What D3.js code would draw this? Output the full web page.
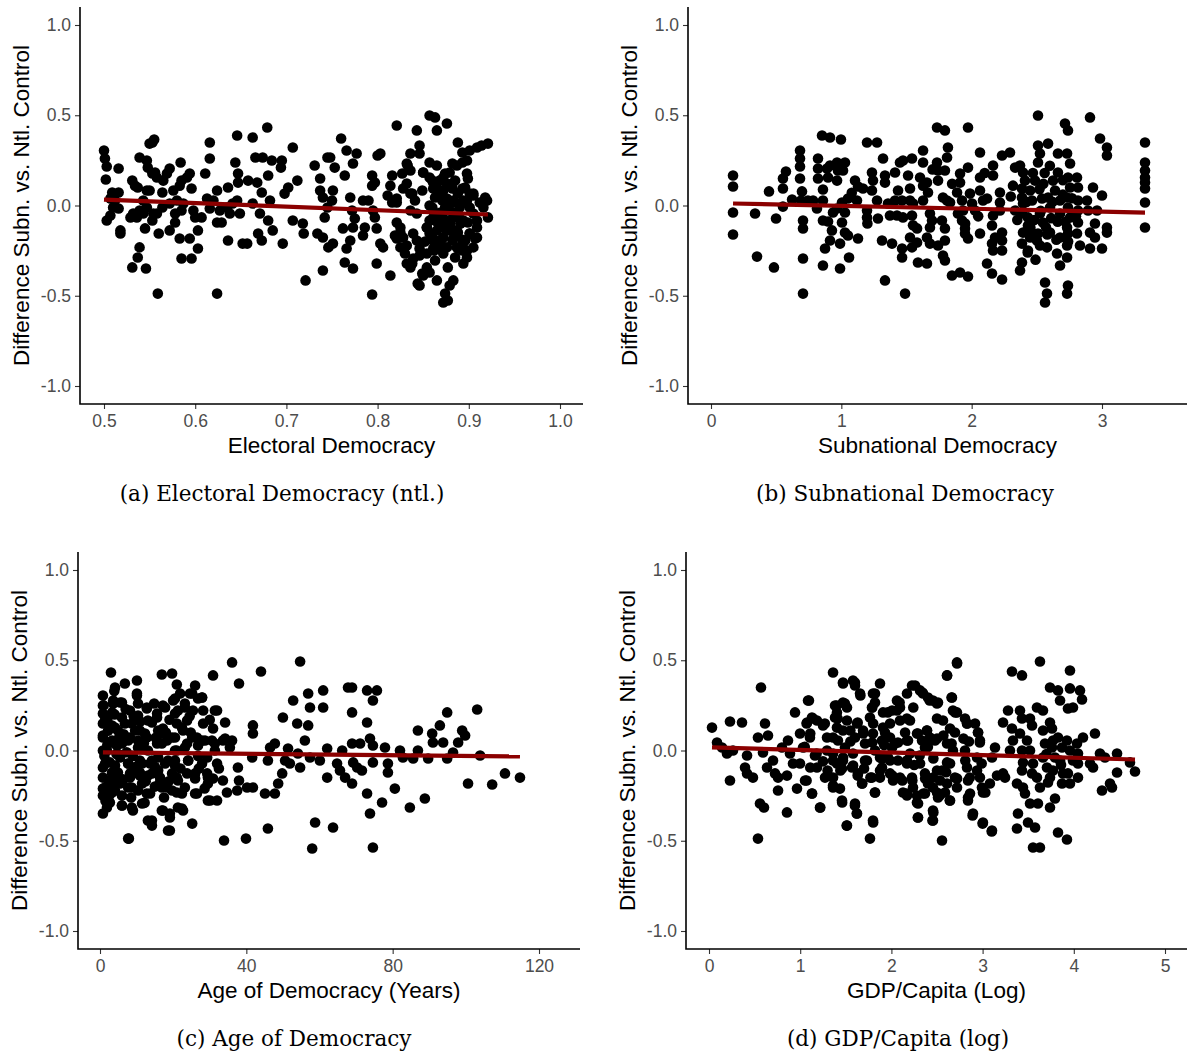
<!DOCTYPE html>
<html>
<head>
<meta charset="utf-8">
<script src="https://cdn.jsdelivr.net/npm/d3@7"></script>
<style>
  html, body { margin: 0; padding: 0; background: #fff; }
  svg { display: block; }
</style>
</head>
<body>
<svg id="fig" width="1187" height="1057"></svg>
<script>
// ---- Observations: [x, difference subnational vs national control] ----
const electoralDem = [
[0.500,0.305],[0.501,0.26],[0.503,0.216],[0.502,0.144],[0.509,0.072],[0.516,0.072],[0.507,0.039],[0.510,-0.011],[0.503,-0.083],[0.507,-0.055],
[0.516,0.205],[0.518,-0.138],[0.518,-0.155],[0.516,-0.017],[0.512,0.028],[0.531,0.138],[0.534,0.11],[0.537,0.1],[0.529,-0.066],[0.532,-0.044],
[0.531,-0.343],[0.539,-0.232],[0.537,-0.288],[0.546,-0.349],[0.539,0.266],[0.547,0.249],[0.548,0.21],[0.550,0.343],[0.555,0.366],[0.553,0.349],
[0.553,0.177],[0.556,0.183],[0.558,0.155],[0.547,0.083],[0.550,0.083],[0.543,0.028],[0.547,-0.011],[0.543,-0.044],[0.539,-0.028],[0.536,-0.066],
[0.545,-0.127],[0.554,-0.044],[0.553,-0.083],[0.559,-0.488],[0.560,-0.155],[0.564,0.072],[0.565,0.138],[0.569,0.177],[0.572,0.205],[0.572,0.011],
[0.564,-0.011],[0.558,-0.044],[0.572,-0.138],[0.578,-0.044],[0.578,-0.094],[0.580,0.028],[0.576,0.083],[0.583,0.11],[0.585,0.138],[0.584,0.238],
[0.591,0.155],[0.594,0.177],[0.596,0.094],[0.585,-0.028],[0.587,0.011],[0.583,-0.183],[0.585,-0.294],[0.594,-0.183],[0.596,-0.294],[0.603,-0.238],
[0.603,-0.138],[0.600,-0.066],[0.598,-0.028],[0.607,-0.066],[0.611,0.177],[0.616,0.349],[0.616,0.26],[0.613,0.039],[0.620,0.028],[0.616,-0.017],
[0.624,0.083],[0.624,-0.094],[0.624,-0.488],[0.629,-0.094],[0.627,-0.028],[0.636,0.1],[0.635,-0.011],[0.636,-0.194],[0.638,-0.044],[0.641,0.011],
[0.644,0.238],[0.646,0.388],[0.647,0.177],[0.647,0.127],[0.646,0.028],[0.649,-0.044],[0.652,-0.211],[0.657,-0.211],[0.658,0.138],[0.663,0.377],
[0.666,0.266],[0.668,0.127],[0.663,0.011],[0.671,-0.044],[0.669,-0.155],[0.673,-0.194],[0.673,0.072],[0.674,0.266],[0.679,0.432],[0.680,0.166],
[0.684,0.249],[0.680,-0.083],[0.685,-0.138],[0.682,0.028],[0.695,0.249],[0.694,0.21],[0.696,-0.211],[0.698,0.066],[0.702,0.1],[0.707,0.321],
[0.707,-0.083],[0.712,0.138],[0.718,-0.1],[0.719,-0.155],[0.721,-0.415],[0.731,0.222],[0.737,0.15],[0.737,0.083],[0.740,0.044],[0.734,-0.155],
[0.740,-0.177],[0.740,-0.36],[0.745,0.266],[0.742,-0.066],[0.745,-0.011],[0.746,-0.232],[0.748,0.266],[0.753,0.21],[0.760,0.371],[0.766,0.305],
[0.777,0.288],[0.773,0.233],[0.764,0.166],[0.751,0.083],[0.750,0.028],[0.770,0.044],[0.772,-0.028],[0.784,0.028],[0.790,0.028],[0.795,-0.028],
[0.797,-0.066],[0.775,-0.072],[0.773,-0.122],[0.762,-0.127],[0.751,-0.211],[0.770,-0.194],[0.766,-0.238],[0.784,-0.166],[0.786,-0.122],[0.764,-0.316],
[0.773,-0.349],[0.794,-0.493],[0.799,-0.127],[0.799,-0.321],[0.803,-0.211],[0.806,-0.232],[0.814,-0.388],[0.803,0.288],[0.800,0.277],[0.794,0.166],
[0.797,0.127],[0.794,0.11],[0.814,0.11],[0.811,0.055],[0.816,0.017],[0.821,0.443],[0.821,0.017],[0.821,-0.094],[0.819,-0.166],[0.825,-0.122],
[0.827,0.177],[0.832,0.233],[0.832,0.122],[0.836,0.194],[0.836,0.288],[0.836,0.066],[0.836,-0.028],[0.828,-0.177],[0.830,-0.266],[0.825,-0.232],
[0.838,-0.321],[0.832,-0.321],[0.843,0.416],[0.846,0.332],[0.846,0.288],[0.850,0.183],[0.849,0.083],[0.841,0.028],[0.843,-0.044],[0.839,-0.155],
[0.843,-0.194],[0.846,-0.238],[0.849,-0.377],[0.844,-0.432],[0.857,0.499],[0.863,0.488],[0.865,0.416],[0.876,0.454],[0.857,0.238],[0.865,0.222],
[0.860,0.138],[0.861,0.094],[0.863,0.044],[0.860,-0.011],[0.868,0.138],[0.872,0.083],[0.871,0.028],[0.874,-0.011],[0.857,-0.083],[0.854,-0.122],
[0.857,-0.155],[0.865,-0.138],[0.861,-0.194],[0.868,-0.232],[0.872,-0.177],[0.854,-0.266],[0.863,-0.305],[0.872,-0.266],[0.854,-0.343],[0.857,-0.371],
[0.865,-0.415],[0.846,-0.443],[0.874,-0.488],[0.872,-0.537],[0.877,-0.526],[0.883,-0.415],[0.879,-0.443],[0.877,-0.343],[0.885,-0.288],[0.887,-0.232],
[0.882,-0.194],[0.879,-0.138],[0.888,-0.15],[0.883,-0.066],[0.879,-0.028],[0.890,-0.011],[0.883,0.028],[0.888,0.066],[0.882,0.094],[0.885,0.138],
[0.879,0.183],[0.887,0.222],[0.893,0.238],[0.882,0.233],[0.888,0.349],[0.893,0.294],[0.898,0.249],[0.901,0.305],[0.898,0.177],[0.899,0.15],
[0.896,0.1],[0.901,0.066],[0.898,0.028],[0.905,0.066],[0.909,0.321],[0.914,0.332],[0.921,0.343],[0.918,0.044],[0.920,0.028],[0.916,-0.011],
[0.921,-0.066],[0.901,-0.011],[0.905,-0.044],[0.909,-0.122],[0.901,-0.155],[0.909,-0.177],[0.905,-0.232],[0.894,-0.083],[0.896,-0.194],[0.893,-0.249],
[0.894,-0.321],[0.898,-0.288],[0.861,-0.066],[0.866,-0.094],[0.874,-0.094],[0.857,0.155],[0.874,0.177],[0.876,0.122],[0.865,0.1],[0.869,0.05],
[0.878,0.0],[0.886,-0.04],[0.892,0.01],[0.868,-0.04],[0.880,-0.1],[0.891,-0.1],[0.870,-0.19],[0.852,-0.2],[0.862,-0.25],[0.893,-0.19],
[0.861,0.127],[0.872,0.155],[0.882,0.122],[0.893,0.094],[0.866,0.055],[0.876,0.039],[0.885,0.017],[0.894,0.028],[0.905,0.055],[0.912,0.017],
[0.857,0.0],[0.863,-0.083],[0.871,-0.055],[0.879,-0.083],[0.890,-0.072],[0.899,-0.094],[0.909,-0.083],[0.854,-0.122],[0.874,-0.127],[0.887,-0.138],
[0.901,-0.155],[0.860,-0.177],[0.868,-0.194],[0.883,-0.183],[0.894,-0.205],[0.907,-0.183],[0.861,-0.238],[0.876,-0.232],[0.888,-0.238],[0.898,-0.249],
[0.825,-0.15],[0.821,-0.183],[0.832,-0.222],[0.839,-0.294],[0.846,-0.277],[0.836,-0.343],[0.850,-0.388],[0.828,0.094],[0.838,0.066],[0.821,0.039],
[0.816,0.166],[0.833,0.222],[0.850,0.183]
];

const subnatDem = [
[0.169,0.166],[0.169,0.105],[0.169,-0.039],[0.169,-0.161],[0.338,-0.044],[0.445,0.078],[0.499,-0.072],[0.353,-0.283],[0.483,-0.343],[0.552,0.094],
[0.552,0.15],[0.575,0.188],[0.552,-0.006],[0.622,0.033],[0.683,0.305],[0.683,0.26],[0.683,0.216],[0.683,0.15],[0.698,0.078],[0.691,0.028],
[0.706,-0.083],[0.706,-0.127],[0.706,-0.294],[0.706,-0.488],[0.744,0.028],[0.783,0.028],[0.813,-0.017],[0.821,0.26],[0.821,0.205],[0.821,0.15],
[0.852,0.388],[0.913,0.377],[0.997,0.366],[0.859,0.089],[0.859,0.028],[0.890,0.205],[0.913,0.222],[0.898,0.155],[0.967,0.238],[0.974,0.194],
[0.967,0.138],[1.028,0.238],[1.013,0.194],[0.859,-0.083],[0.898,-0.089],[0.928,-0.138],[0.913,-0.194],[0.875,-0.238],[0.859,-0.332],[0.936,-0.039],
[0.967,-0.017],[1.005,0.017],[1.028,-0.039],[1.005,-0.094],[1.028,-0.15],[0.990,-0.211],[1.051,-0.166],[1.059,-0.288],[0.990,-0.349],[1.128,-0.183],
[1.051,0.039],[1.105,0.138],[1.128,0.105],[1.166,0.094],[1.120,0.028],[1.197,-0.028],[1.197,-0.066],[1.235,0.183],[1.243,0.138],[1.235,0.083],
[1.197,0.349],[1.274,0.349],[1.274,0.028],[1.281,-0.072],[1.312,-0.194],[1.335,-0.415],[1.320,0.26],[1.335,0.166],[1.335,0.127],[1.358,0.011],
[1.373,-0.055],[1.389,-0.211],[1.412,0.183],[1.412,0.028],[1.435,0.083],[1.450,0.238],[1.473,0.249],[1.466,0.028],[1.427,-0.055],[1.473,-0.066],
[1.466,-0.238],[1.466,-0.288],[1.489,-0.488],[1.512,0.166],[1.527,0.094],[1.542,0.26],[1.527,0.028],[1.550,0.011],[1.542,-0.055],[1.527,-0.177],
[1.542,-0.232],[1.581,-0.127],[1.581,-0.205],[1.588,-0.316],[1.627,0.305],[1.627,0.238],[1.604,0.155],[1.627,0.11],[1.657,0.127],[1.665,0.072],
[1.627,0.028],[1.680,-0.044],[1.696,-0.083],[1.680,-0.122],[1.657,-0.177],[1.680,-0.211],[1.657,-0.321],[1.734,0.432],[1.795,0.416],[1.734,0.238],
[1.742,0.194],[1.795,0.194],[1.742,0.138],[1.818,0.321],[1.811,0.266],[1.780,0.044],[1.811,0.028],[1.834,0.017],[1.772,-0.083],[1.795,-0.127],
[1.795,-0.194],[1.780,-0.277],[1.795,-0.305],[1.742,-0.222],[1.849,-0.388],[1.911,-0.371],[1.972,-0.393],[1.888,0.072],[1.911,0.177],[1.911,0.127],
[1.926,0.028],[1.934,-0.028],[1.895,-0.044],[1.926,-0.083],[1.949,-0.127],[1.949,-0.155],[1.972,-0.183],[1.972,0.432],[1.972,0.21],[1.987,0.066],
[2.003,0.011],[2.026,-0.028],[2.064,0.155],[2.064,0.083],[2.064,0.294],[2.087,0.028],[2.064,-0.155],[2.118,0.039],[2.118,-0.321],[2.156,-0.377],
[2.164,0.222],[2.164,0.166],[2.164,-0.055],[2.156,-0.111],[2.179,-0.177],[2.156,-0.211],[2.164,-0.249],[2.217,0.072],[2.217,0.017],[2.217,-0.028],
[2.233,-0.15],[2.233,-0.194],[2.233,-0.249],[2.233,-0.41],[2.233,0.277],[2.294,0.294],[2.317,0.11],[2.333,0.21],[2.371,0.222],[2.394,0.183],
[2.409,0.138],[2.386,0.094],[2.386,0.044],[2.394,0.011],[2.333,-0.028],[2.386,-0.044],[2.432,-0.066],[2.432,-0.111],[2.394,-0.15],[2.386,-0.211],
[2.432,-0.249],[2.386,-0.316],[2.371,-0.36],[2.448,-0.177],[2.463,-0.15],[2.501,-0.194],[2.486,0.138],[2.448,0.083],[2.463,0.028],[2.509,0.499],
[2.509,0.332],[2.586,0.343],[2.524,0.288],[2.509,0.238],[2.540,0.039],[2.524,-0.044],[2.547,-0.094],[2.509,-0.155],[2.524,-0.222],[2.578,-0.232],
[2.563,-0.427],[2.578,-0.488],[2.563,-0.537],[2.586,0.044],[2.601,-0.011],[2.601,-0.15],[2.624,0.138],[2.640,0.083],[2.655,-0.266],[2.662,0.183],
[2.662,0.288],[2.678,0.028],[2.678,-0.044],[2.678,-0.177],[2.678,-0.332],[2.716,0.454],[2.739,0.416],[2.732,0.288],[2.755,0.233],[2.739,0.155],
[2.755,0.1],[2.732,0.044],[2.739,-0.011],[2.755,-0.066],[2.732,-0.122],[2.739,-0.155],[2.732,-0.222],[2.732,-0.288],[2.739,-0.443],[2.732,-0.488],
[2.808,0.155],[2.816,0.1],[2.816,0.028],[2.816,-0.028],[2.816,-0.094],[2.808,-0.155],[2.831,-0.222],[2.908,0.488],[2.885,0.028],[2.893,-0.028],
[2.908,-0.15],[2.908,-0.238],[2.931,0.1],[3.000,0.055],[3.000,-0.238],[2.985,0.371],[3.038,0.321],[3.038,0.277],[2.962,-0.028],[2.946,-0.1],
[2.946,-0.177],[3.038,-0.122],[3.038,-0.15],[3.330,0.349],[3.330,0.238],[3.330,0.194],[3.330,0.155],[3.330,0.127],[3.330,0.094],[3.330,0.017],
[3.330,-0.122],[2.570,-0.12],[2.610,-0.07],[2.700,0.06],[2.650,-0.19],[2.480,-0.08],[2.560,0.18],[2.720,-0.09],[2.520,0.09],[2.600,0.22],
[2.30,0.05],[2.35,-0.08],[2.42,0.02],[2.45,-0.12],[2.47,0.18],[2.53,-0.03],[2.55,0.12],[2.58,-0.16],[2.62,0.02],[2.66,-0.09],
[2.70,0.14],[2.74,-0.2],[2.77,0.04],[2.80,-0.06],[2.43,-0.26],[2.49,-0.3],[1.85,0.12],[1.95,-0.1],[2.05,-0.06],[2.10,0.18],
[1.70,0.2],[1.55,-0.11],[1.20,-0.1],[1.08,0.07]
];

const ageDem = [
[3.0,0.432],[4.1,0.349],[6.8,0.371],[10.1,0.388],[16.9,0.421],[21.0,0.366],[30.9,0.416],[36.1,0.488],[38.0,0.371],[44.0,0.438],
[54.7,0.493],[0.8,0.305],[0.8,0.249],[0.8,0.205],[0.8,0.15],[0.8,0.083],[0.8,0.0],[0.8,-0.094],[0.8,-0.15],[0.8,-0.211],
[0.8,-0.249],[0.8,-0.349],[1.9,-0.316],[2.7,-0.288],[3.6,0.277],[3.3,0.211],[3.3,0.138],[3.3,0.055],[2.7,-0.066],[3.3,-0.122],
[3.3,-0.183],[3.3,-0.233],[5.5,0.266],[6.0,0.183],[4.9,0.111],[6.0,0.039],[5.5,-0.039],[4.9,-0.122],[5.5,-0.183],[6.0,-0.249],
[6.0,-0.305],[7.9,-0.488],[8.2,0.222],[8.7,0.15],[8.2,0.072],[7.7,-0.072],[8.2,-0.15],[8.7,-0.205],[9.0,-0.332],[10.1,0.316],
[10.4,0.194],[10.9,0.111],[10.4,0.055],[10.9,-0.055],[10.9,-0.122],[11.5,-0.183],[11.5,-0.294],[12.8,0.238],[13.1,0.166],[12.8,0.072],
[13.1,0.0],[13.7,-0.072],[13.1,-0.139],[12.8,-0.238],[14.2,-0.388],[14.2,-0.416],[15.6,0.183],[15.9,0.111],[15.6,0.039],[15.9,-0.039],
[15.9,-0.111],[16.4,-0.177],[16.9,-0.332],[17.2,0.249],[18.3,0.055],[18.6,-0.055],[18.3,-0.205],[18.6,-0.443],[19.1,-0.349],[19.7,0.427],
[20.0,0.277],[20.5,0.205],[21.0,0.15],[20.5,0.072],[21.0,0.0],[20.5,-0.083],[21.0,-0.15],[21.0,-0.233],[21.3,-0.316],[22.7,-0.332],
[21.9,0.316],[23.2,0.238],[23.8,0.166],[22.7,0.111],[23.8,0.039],[24.1,-0.055],[23.8,-0.127],[23.2,-0.205],[25.2,-0.405],[24.6,0.316],
[26.0,0.36],[25.4,0.222],[26.8,0.288],[26.5,0.072],[26.0,-0.127],[26.5,-0.238],[27.9,0.294],[28.2,0.15],[28.7,0.055],[29.3,-0.039],
[29.3,-0.127],[29.5,-0.183],[29.5,-0.277],[32.0,-0.277],[30.9,0.122],[32.0,0.222],[31.4,0.039],[32.0,-0.072],[30.9,-0.155],[34.2,0.155],
[33.6,0.055],[33.6,-0.166],[36.1,0.055],[35.5,0.017],[34.7,-0.233],[37.7,-0.094],[38.0,-0.166],[37.5,-0.222],[33.9,-0.499],[39.9,-0.488],
[40.2,-0.205],[41.8,-0.205],[41.8,0.139],[41.8,0.094],[41.6,-0.039],[45.1,-0.238],[45.9,-0.432],[46.5,0.017],[47.8,0.039],[47.8,-0.238],
[45.9,-0.055],[48.7,-0.183],[50.0,0.183],[49.8,-0.127],[50.6,-0.055],[51.4,0.011],[51.9,-0.072],[52.8,0.277],[53.9,0.15],[54.1,-0.017],
[54.7,-0.094],[56.0,0.055],[56.9,0.316],[57.4,0.238],[56.9,0.139],[57.4,-0.039],[58.8,-0.399],[58.0,-0.543],[60.1,-0.055],[61.0,0.333],
[61.0,0.238],[62.1,-0.15],[62.1,0.011],[63.7,-0.427],[64.8,-0.072],[66.2,0.0],[65.6,-0.111],[67.0,-0.15],[67.8,0.349],[68.9,0.349],
[68.9,0.211],[68.9,0.039],[69.2,-0.066],[70.3,-0.094],[71.1,0.039],[71.6,-0.111],[68.9,-0.183],[73.0,0.333],[73.0,0.155],[73.0,-0.238],
[73.8,-0.349],[74.6,-0.537],[74.6,0.277],[75.7,0.333],[73.8,0.066],[74.6,0.028],[74.6,-0.066],[77.1,-0.288],[77.9,0.017],[78.7,-0.072],
[78.7,-0.122],[80.6,-0.211],[82.0,0.0],[82.8,-0.039],[84.7,-0.316],[85.6,-0.044],[86.9,0.111],[86.9,0.0],[88.8,-0.266],[89.7,-0.044],
[90.8,0.094],[91.0,0.044],[92.9,0.139],[93.8,0.044],[94.9,-0.044],[94.9,0.211],[96.5,-0.011],[97.9,0.044],[99.0,0.111],[99.8,0.083],
[100.6,-0.183],[103.1,0.227],[103.9,-0.028],[107.2,-0.188],[110.7,-0.127],[114.8,-0.15],
[3.6,0.26],[6.0,0.266],[10.1,0.305],[10.4,0.26],[12.8,0.233],[15.6,0.205],[17.8,0.238],[20.5,0.288],[21.3,0.222],[23.2,0.26],
[25.2,0.316],[27.9,0.294],[28.2,0.222],[31.4,0.222],[1.4,0.183],[4.1,0.127],[6.8,0.15],[9.6,0.111],[12.3,0.094],[14.2,0.155],
[17.2,0.122],[19.7,0.072],[22.4,0.127],[25.2,0.072],[27.9,0.055],[30.6,0.055],[34.2,0.066],[0.8,0.072],[1.9,0.0],[4.6,0.028],
[7.7,0.055],[10.4,0.017],[16.9,0.039],[20.5,0.0],[23.2,0.017],[26.8,0.028],[31.4,0.0],[1.4,-0.072],[4.1,-0.083],[7.7,-0.072],
[11.5,-0.072],[14.2,-0.055],[17.8,-0.072],[20.5,-0.055],[24.1,-0.055],[27.9,-0.072],[3.3,-0.127],[4.9,-0.15],[8.2,-0.127],[10.9,-0.139],
[14.2,-0.127],[16.4,-0.15],[19.7,-0.127],[21.3,-0.166],[26.0,-0.155],[29.5,-0.15],[1.4,-0.205],[4.1,-0.222],[7.7,-0.205],[10.4,-0.222],
[13.7,-0.238],[16.9,-0.205],[19.7,-0.222],[22.4,-0.238],[26.0,-0.238],[30.1,-0.277],[6.0,-0.305],[8.7,-0.316],[17.2,-0.332],[19.1,-0.371],
[22.4,-0.321],[13.1,-0.388],[19.1,-0.443],[7.7,-0.488],[2.0,0.03],[5.0,-0.02],[9.0,-0.03],[12.0,0.04],[15.0,-0.09],[18.0,0.1],
[2.2,0.11],[6.5,0.09],[9.5,-0.1],[12.5,-0.17],[15.2,0.07],[18.8,-0.17],[24.8,0.1],[27.0,-0.1],[2.4,-0.17],[11.0,0.16],
[1.0,0.25],[1.2,-0.03],[2.0,0.17],[2.5,-0.25],[4.0,0.2],[4.5,-0.02],[5.2,0.07],[6.3,-0.16],[7.0,0.23],[7.3,-0.01],
[8.5,-0.26],[9.2,0.19],[9.8,-0.09],[11.8,0.02],[12.2,-0.29],[14.8,0.26],[15.0,-0.2],[16.2,0.09],[17.5,-0.26],[19.0,0.17],
[22.0,-0.1],[24.5,0.19],[26.8,-0.03],[28.6,-0.21],[30.0,0.17],[32.5,-0.1],[3.9,0.33],[1.5,-0.28]
];

const gdpLog = [
[0.033,0.127],[0.088,0.044],[0.143,0.017],[0.197,-0.017],[0.230,0.161],[0.362,0.155],[0.263,0.0],[0.230,-0.166],[0.395,-0.094],[0.417,-0.028],
[0.417,-0.127],[0.482,-0.15],[0.537,0.072],[0.570,0.349],[0.614,0.15],[0.559,-0.294],[0.603,-0.316],[0.537,-0.488],[0.592,-0.011],[0.636,-0.094],
[0.647,0.083],[0.702,-0.055],[0.724,-0.127],[0.757,-0.222],[0.757,-0.15],[0.855,-0.139],[0.855,-0.343],[0.800,0.017],[0.888,-0.017],[0.866,0.055],
[0.921,-0.072],[0.965,-0.211],[0.943,0.211],[0.998,0.094],[1.031,0.017],[0.998,-0.072],[1.053,-0.166],[1.086,0.277],[1.075,0.155],[1.107,0.072],
[1.129,0.183],[1.129,-0.238],[1.162,-0.028],[1.184,0.166],[1.217,-0.316],[1.184,-0.094],[1.250,0.139],[1.272,-0.15],[1.294,0.072],[1.294,0.0],
[1.360,0.432],[1.382,0.249],[1.403,0.211],[1.382,0.183],[1.403,0.127],[1.414,0.055],[1.360,-0.017],[1.403,-0.072],[1.360,-0.15],[1.360,-0.205],
[1.458,-0.277],[1.513,-0.416],[1.469,0.377],[1.469,0.266],[1.513,0.238],[1.513,0.166],[1.469,0.111],[1.491,0.017],[1.469,-0.055],[1.458,-0.1],
[1.436,-0.211],[1.579,0.388],[1.601,0.36],[1.656,0.316],[1.623,0.15],[1.601,0.072],[1.579,-0.017],[1.568,-0.094],[1.634,-0.127],[1.678,-0.183],
[1.601,-0.294],[1.623,-0.349],[1.689,0.111],[1.711,0.039],[1.732,-0.055],[1.787,0.238],[1.798,0.316],[1.820,0.266],[1.765,0.183],[1.798,0.094],
[1.820,0.0],[1.787,-0.15],[1.820,-0.233],[1.798,-0.388],[1.765,-0.488],[1.875,0.371],[1.908,0.211],[1.908,0.127],[1.897,0.055],[1.897,-0.044],
[1.897,-0.094],[1.875,-0.15],[2.007,0.222],[1.985,0.15],[1.985,0.072],[2.007,0.017],[1.963,-0.039],[1.985,-0.127],[2.018,-0.166],[2.061,0.277],
[2.094,0.238],[2.094,0.166],[2.072,0.044],[2.072,-0.055],[2.094,-0.15],[2.127,-0.233],[2.171,-0.249],[2.171,0.316],[2.226,0.36],[2.204,0.166],
[2.182,0.055],[2.204,-0.017],[2.171,-0.072],[2.226,-0.15],[2.237,-0.205],[2.281,-0.249],[2.292,-0.294],[2.292,-0.371],[2.314,0.333],[2.347,0.316],
[2.281,0.094],[2.336,0.055],[2.368,0.017],[2.314,-0.072],[2.368,-0.127],[2.401,-0.183],[2.368,-0.238],[2.401,0.294],[2.456,0.277],[2.511,0.266],
[2.390,0.111],[2.423,0.072],[2.478,0.055],[2.500,0.177],[2.566,0.166],[2.456,-0.15],[2.456,-0.205],[2.500,-0.233],[2.511,-0.26],[2.555,-0.111],
[2.533,-0.166],[2.588,-0.233],[2.643,-0.277],[2.456,-0.332],[2.456,-0.388],[2.555,-0.499],[2.610,0.416],[2.719,0.488],[2.664,0.294],[2.675,0.222],
[2.719,0.211],[2.643,0.122],[2.697,0.1],[2.610,0.039],[2.675,0.0],[2.643,-0.072],[2.697,-0.15],[2.719,-0.205],[2.807,0.177],[2.829,0.15],
[2.807,0.0],[2.829,-0.094],[2.840,-0.166],[2.862,-0.238],[2.840,-0.277],[2.895,-0.349],[2.917,0.15],[2.950,0.1],[2.971,0.055],[2.939,-0.039],
[2.939,-0.111],[2.971,-0.15],[2.993,-0.205],[3.004,-0.399],[3.103,-0.443],[3.004,-0.233],[3.103,-0.039],[3.136,0.017],[3.158,-0.139],[3.224,-0.127],
[3.246,-0.15],[3.224,0.155],[3.279,0.222],[3.300,0.0],[3.322,0.438],[3.432,0.416],[3.322,0.122],[3.333,0.055],[3.377,-0.183],[3.388,-0.349],
[3.377,-0.432],[3.410,0.222],[3.432,0.177],[3.410,0.094],[3.432,0.0],[3.443,-0.066],[3.432,-0.111],[3.443,-0.205],[3.465,-0.238],[3.520,-0.294],
[3.498,-0.399],[3.575,-0.427],[3.553,-0.537],[3.629,-0.537],[3.596,0.238],[3.629,0.493],[3.520,0.177],[3.542,0.139],[3.487,0.055],[3.520,0.0],
[3.553,-0.072],[3.596,-0.15],[3.629,-0.205],[3.607,-0.294],[3.662,0.222],[3.662,0.111],[3.684,0.039],[3.662,-0.039],[3.706,-0.094],[3.717,-0.177],
[3.739,0.349],[3.739,0.155],[3.761,0.122],[3.772,0.055],[3.761,0.017],[3.794,-0.039],[3.772,-0.111],[3.739,-0.15],[3.794,-0.266],[3.739,-0.316],
[3.827,0.333],[3.849,0.277],[3.827,0.072],[3.871,0.017],[3.849,-0.055],[3.882,-0.127],[3.871,-0.183],[3.827,-0.454],[3.925,-0.493],[3.958,0.443],
[3.958,0.344],[4.068,0.333],[4.090,0.283],[3.936,0.233],[3.991,0.238],[3.925,0.055],[3.958,0.0],[3.991,-0.055],[3.936,-0.127],[3.958,-0.183],
[4.035,0.039],[4.046,-0.017],[4.046,-0.072],[4.046,-0.15],[4.101,0.072],[4.178,-0.072],[4.211,-0.094],[4.232,0.094],[4.309,-0.222],[4.287,-0.017],
[4.342,-0.039],[4.397,-0.183],[4.419,-0.205],[4.474,-0.122],[4.474,-0.017],[4.616,-0.066],[4.671,-0.116],[3.542,-0.127],[1.55,0.05],[1.70,-0.1],
[1.92,0.03],[2.15,0.1],[2.25,-0.08],[2.40,0.02],[2.60,-0.12],[1.25,-0.06],[3.70,-0.02],[3.86,-0.08],[1.05,0.02],[2.85,0.05],
[1.47,0.371],[1.60,0.377],[1.66,0.305],[1.82,0.316],[1.096,0.277],[1.40,0.249],[1.49,0.26],[1.79,0.238],[2.09,0.266],[2.26,0.36],
[2.34,0.321],[2.42,0.277],[2.50,0.26],[2.66,0.294],[2.61,0.416],[2.72,0.482],[1.96,0.211],[2.06,0.222],[2.24,0.238],[2.17,0.177],
[2.70,0.211],[1.14,0.177],[1.27,0.15],[1.07,0.15],[1.41,0.177],[1.63,0.155],[1.80,0.15],[1.93,0.1],[1.11,0.094],[1.36,0.072],
[1.55,0.111],[1.69,0.094],[1.79,0.044],[2.04,0.039],[2.17,0.055],[2.29,0.094],[2.39,0.111],[2.50,0.066],[2.57,0.083],[2.66,0.039],
[2.79,0.066],[2.97,0.044],[2.83,0.15],[2.95,0.1],[1.18,-0.017],[1.36,-0.055],[1.47,-0.039],[1.58,-0.083],[1.71,-0.055],[1.875,-0.039],
[1.985,-0.055],[2.17,-0.055],[2.31,-0.028],[2.46,-0.044],[2.61,-0.066],[2.81,-0.055],[2.99,-0.072],[1.11,-0.094],[1.30,-0.111],[1.44,-0.111],
[1.63,-0.139],[1.77,-0.15],[1.875,-0.111],[2.01,-0.139],[2.12,-0.166],[2.23,-0.166],[2.37,-0.155],[2.50,-0.111],[2.61,-0.183],[2.72,-0.155],
[2.86,-0.15],[3.08,-0.183],[1.07,-0.166],[1.36,-0.194],[1.68,-0.183],[1.82,-0.233],[2.17,-0.238],[2.35,-0.238],[2.53,-0.249],[2.84,-0.26],
[3.03,-0.233],[1.13,-0.238],[1.46,-0.288],[2.28,-0.288],[2.64,-0.277],[1.22,-0.316],[1.60,-0.305],[1.62,-0.349],[2.46,-0.343],[2.29,-0.371],
[2.45,-0.388],[2.89,-0.36],[1.80,-0.399],[1.51,-0.416],[3.00,-0.405],[3.10,-0.449]
];

// Fitted regression lines, given by their two end points
const fitElectoral = [[0.500, 0.033], [0.921, -0.050]];
const fitSubnat = [[0.169, 0.011], [3.330, -0.039]];
const fitAge = [[0.8, -0.010], [114.8, -0.033]];
const fitGdp = [[0.033, 0.017], [4.671, -0.050]];

// Tick values
const yTicks = [-1.0, -0.5, 0.0, 0.5, 1.0];
const xTicksElectoral = [0.5, 0.6, 0.7, 0.8, 0.9, 1.0];
const xTicksSubnat = [0, 1, 2, 3];
const xTicksAge = [0, 40, 80, 120];
const xTicksGdp = [0, 1, 2, 3, 4, 5];

// Titles and captions
const yTitle = "Difference Subn. vs. Ntl. Control";
const xTitles = ["Electoral Democracy", "Subnational Democracy", "Age of Democracy (Years)", "GDP/Capita (Log)"];
const captions = ["(a) Electoral Democracy (ntl.)", "(b) Subnational Democracy", "(c) Age of Democracy", "(d) GDP/Capita (log)"];

// ---- Layout of the four panels (pixels) ----
const panels = [
  { data: electoralDem, fit: fitElectoral, ticks: xTicksElectoral, fmt: d => d.toFixed(1),
    xDom: [0.5, 1.0], xRng: [104, 560], left: 80, right: 583, top: 7, bottom: 404, yRng: [386, 25],
    xTitle: xTitles[0], caption: captions[0], capX: 282 },
  { data: subnatDem, fit: fitSubnat, ticks: xTicksSubnat, fmt: d => String(d),
    xDom: [0, 3], xRng: [711, 1102], left: 688, right: 1187, top: 7, bottom: 404, yRng: [386, 25],
    xTitle: xTitles[1], caption: captions[1], capX: 905 },
  { data: ageDem, fit: fitAge, ticks: xTicksAge, fmt: d => String(d),
    xDom: [0, 120], xRng: [100, 539], left: 78, right: 580, top: 552, bottom: 949, yRng: [931, 570],
    xTitle: xTitles[2], caption: captions[2], capX: 294 },
  { data: gdpLog, fit: fitGdp, ticks: xTicksGdp, fmt: d => String(d),
    xDom: [0, 5], xRng: [709, 1165], left: 686, right: 1187, top: 552, bottom: 949, yRng: [931, 570],
    xTitle: xTitles[3], caption: captions[3], capX: 898 }
];

const svg = d3.select("#fig");
const sans = "'Liberation Sans', Arial, Helvetica, sans-serif";
const serif = "'DejaVu Serif', 'Liberation Serif', serif";

panels.forEach(p => {
  const x = d3.scaleLinear().domain(p.xDom).range(p.xRng);
  const y = d3.scaleLinear().domain([-1, 1]).range(p.yRng);
  const g = svg.append("g");

  // points
  g.append("g").selectAll("circle")
    .data(p.data)
    .join("circle")
    .attr("cx", d => x(d[0]))
    .attr("cy", d => y(d[1]))
    .attr("r", 5.3)
    .attr("fill", "#000");

  // regression line
  g.append("path")
    .datum(p.fit)
    .attr("d", d3.line().x(d => x(d[0])).y(d => y(d[1])))
    .attr("fill", "none")
    .attr("stroke", "#8b0000")
    .attr("stroke-width", 4.2);

  // y axis
  const yAxis = g.append("g")
    .attr("transform", `translate(${p.left},0)`)
    .call(d3.axisLeft(y).tickValues(yTicks).tickFormat(d => d.toFixed(1)).tickSize(5).tickPadding(4).tickSizeOuter(0));
  yAxis.select(".domain").remove();
  yAxis.selectAll(".tick line").attr("stroke", "#333").attr("stroke-width", 1.1);
  yAxis.selectAll(".tick text").attr("fill", "#4d4d4d").style("font-family", sans).style("font-size", "17.5px");

  // x axis
  const xAxis = g.append("g")
    .attr("transform", `translate(0,${p.bottom})`)
    .call(d3.axisBottom(x).tickValues(p.ticks).tickFormat(p.fmt).tickSize(5).tickPadding(6).tickSizeOuter(0));
  xAxis.select(".domain").remove();
  xAxis.selectAll(".tick line").attr("stroke", "#333").attr("stroke-width", 1.1);
  xAxis.selectAll(".tick text").attr("fill", "#4d4d4d").style("font-family", sans).style("font-size", "17.5px");

  // axis lines
  g.append("path")
    .attr("d", `M${p.left},${p.top}V${p.bottom}H${p.right}`)
    .attr("fill", "none")
    .attr("stroke", "#000")
    .attr("stroke-width", 1.6);

  // axis titles
  g.append("text")
    .attr("x", (p.left + p.right) / 2)
    .attr("y", p.bottom + 49)
    .attr("text-anchor", "middle")
    .style("font-family", sans).style("font-size", "22.5px")
    .text(p.xTitle);

  const yMid = (p.yRng[0] + p.yRng[1]) / 2;
  g.append("text")
    .attr("transform", `translate(${p.left - 51},${yMid}) rotate(-90)`)
    .attr("text-anchor", "middle")
    .style("font-family", sans).style("font-size", "22.5px")
    .text(yTitle);

  // caption
  g.append("text")
    .attr("x", p.capX)
    .attr("y", p.bottom + 97)
    .attr("text-anchor", "middle")
    .style("font-family", serif).style("font-size", "21.5px")
    .text(p.caption);
});
</script>
</body>
</html>
